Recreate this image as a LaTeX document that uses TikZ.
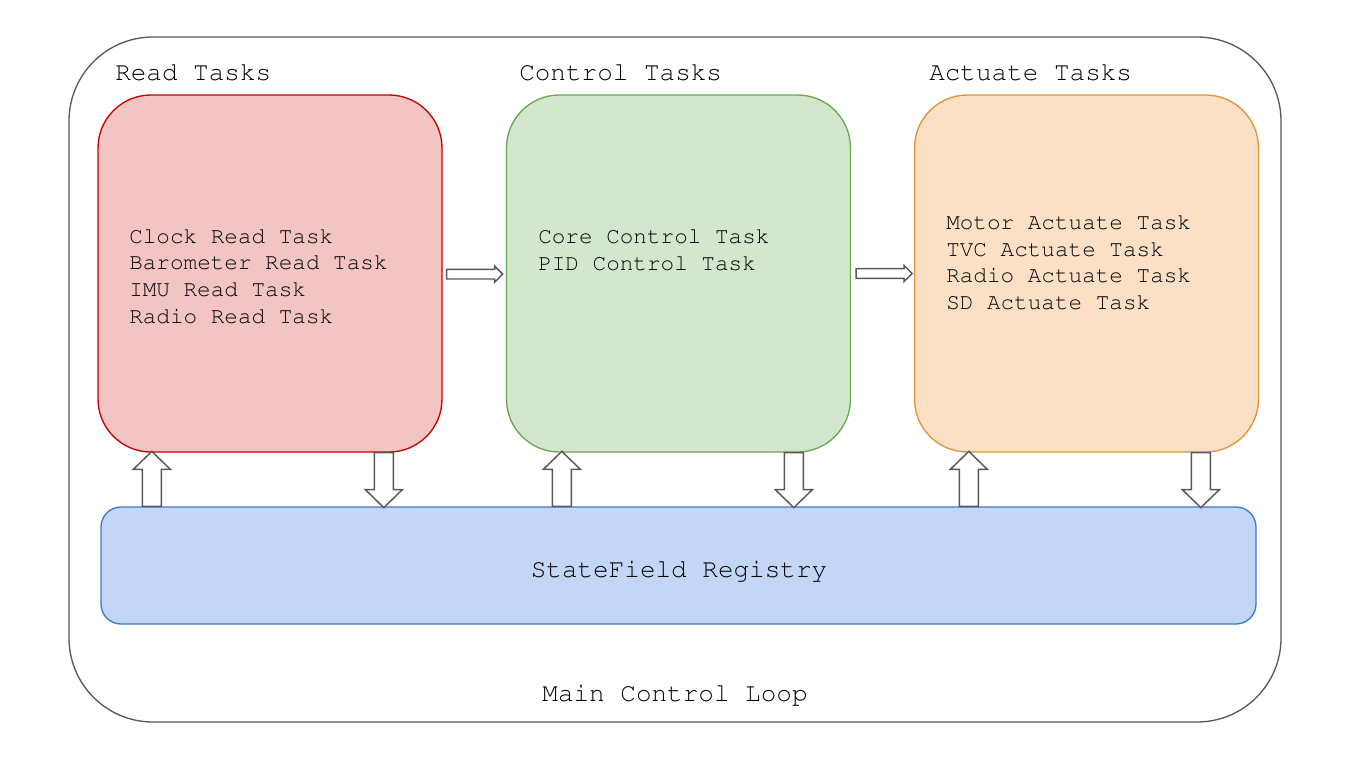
\documentclass[tikz,border=0pt]{standalone}
\usepackage[T1]{fontenc}
\usepackage{courier}
\usetikzlibrary{calc}
\definecolor{redfill}{HTML}{F2C4C4}
\definecolor{redline}{HTML}{CC0000}
\definecolor{greenfill}{HTML}{D5E6CE}
\definecolor{greenline}{HTML}{6AA84F}
\definecolor{orangefill}{HTML}{FBE0C6}
\definecolor{orangeline}{HTML}{E69138}
\definecolor{bluefill}{HTML}{C3D6F6}
\definecolor{blueline}{HTML}{3C78D8}
\definecolor{greyline}{HTML}{595959}
\tikzset{
  stage/.style={draw, line width=1pt, rounded corners=53*0.75pt, minimum width=344*0.75pt, minimum height=357*0.75pt, inner sep=0pt},
  listtext/.style={font=\ttfamily\fontsize{17}{20}\selectfont, align=left, anchor=west, inner sep=0pt},
  titletext/.style={font=\ttfamily\fontsize{19.5}{23}\selectfont, anchor=base west, inner sep=0pt},
  bigtext/.style={font=\ttfamily\fontsize{19.5}{23}\selectfont, anchor=base, inner sep=0pt},
  blockarrow/.style={draw=greyline, fill=white, line width=1.1pt, line join=miter},
  uparr/.pic={\path[blockarrow] (-9.5,0) -- (-9.5,-37) -- (-18.5,-37) -- (0,-55) -- (18.5,-37) -- (9.5,-37) -- (9.5,0) -- cycle;},
  downarr/.pic={\path[blockarrow] (-9.5,0) -- (-9.5,37) -- (-18.5,37) -- (0,55) -- (18.5,37) -- (9.5,37) -- (9.5,0) -- cycle;},
  rightarr/.pic={\path[blockarrow] (0,-4.8) -- (48,-4.8) -- (48,-8) -- (56,0) -- (48,8) -- (48,4.8) -- (0,4.8) -- cycle;}
}
\begin{document}
\begin{tikzpicture}[x=0.75pt, y=-0.75pt]
\useasboundingbox[fill=white] (0,0) rectangle (1346,758);
% outer loop
\node[draw=greyline, line width=1pt, rounded corners=84*0.75pt, minimum width=1212*0.75pt, minimum height=685*0.75pt, inner sep=0pt] (loop) at (675,379.5) {};
% stages
\node[stage, draw=redline, fill=redfill] (red) at (270,273.5) {};
\node[stage, draw=greenline, fill=greenfill] (green) at (678.5,273.5) {};
\node[stage, draw=orangeline, fill=orangefill] (orange) at (1086.5,273.5) {};
% registry
\node[draw=blueline, fill=bluefill, line width=1pt, rounded corners=20*0.75pt, minimum width=1155*0.75pt, minimum height=117*0.75pt, inner sep=0pt] (reg) at (678.5,565.5) {};
% titles
\node[titletext] (t1) at (115,80) {Read Tasks};
\node[titletext] (t2) at (519,80) {Control Tasks};
\node[titletext] (t3) at (929,80) {Actuate Tasks};
\node[bigtext] (regtext) at (679,577) {StateField Registry};
\node[bigtext] (looptext) at (675,701) {Main Control Loop};
% lists
\node[listtext] (l1) at (129,276) {Clock Read Task\\Barometer Read Task\\IMU Read Task\\Radio Read Task};
\node[listtext] (l2) at (538,250) {Core Control Task\\PID Control Task};
\node[listtext] (l3) at (946,262.5) {Motor Actuate Task\\TVC Actuate Task\\Radio Actuate Task\\SD Actuate Task};
% block arrows
\pic at ($(reg.north west)+(51.5,0)$) {uparr};
\pic at ($(reg.north west)+(461.5,0)$) {uparr};
\pic at ($(reg.north west)+(868.5,0)$) {uparr};
\pic at ($(red.south west)+(286.5,0)$) {downarr};
\pic at ($(green.south west)+(288,0)$) {downarr};
\pic at ($(orange.south west)+(287,0)$) {downarr};
\pic at ($(red.east)+(4,0.7)$) {rightarr};
\pic at ($(green.east)+(5,0)$) {rightarr};
\end{tikzpicture}
\end{document}
